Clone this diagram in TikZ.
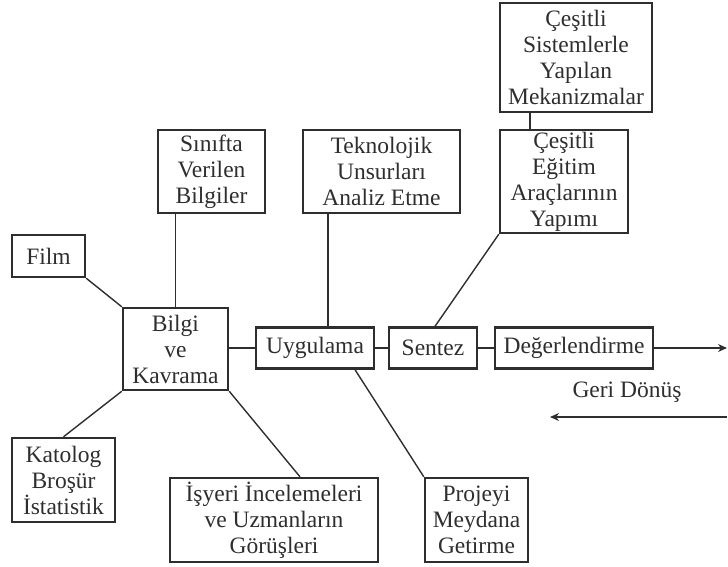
\documentclass[tikz,border=0pt]{standalone}
\usepackage{fontspec}
\setmainfont{Liberation Serif}
\usetikzlibrary{arrows.meta}
\definecolor{ink}{HTML}{2E2E2E}
\tikzset{
  box/.style={draw=ink, line width=2.4pt, inner sep=0pt, align=center,
    font=\fontsize{23.5}{26}\selectfont, text=ink},
  link/.style={draw=ink, line width=1.4pt},
  flow/.style={draw=ink, line width=1.4pt, -{Stealth[length=9pt,width=8pt]}}
}
\begin{document}
\begin{tikzpicture}[x=1pt,y=-1pt]
\useasboundingbox (0,0) rectangle (728,566);
\node[box, minimum width=152pt, minimum height=109pt] (mek) at (576,57.5) {Çeşitli\\Sistemlerle\\Yapılan\\Mekanizmalar};
\node[box, minimum width=128pt, minimum height=103pt] (egt) at (564,181.5) {Çeşitli\\Eğitim\\Araçlarının\\Yapımı};
\node[box, minimum width=107pt, minimum height=83pt] (sinif) at (211.5,171.5) {Sınıfta\\Verilen\\Bilgiler};
\node[box, minimum width=157pt, minimum height=83pt] (tek) at (381.5,171.5) {Teknolojik\\Unsurları\\Analiz Etme};
\node[box, minimum width=73pt, minimum height=42pt] (film) at (48.5,256) {Film};
\node[box, minimum width=105pt, minimum height=82pt] (bilgi) at (175.5,349) {Bilgi\\ve\\Kavrama};
\node[box, minimum width=118pt, minimum height=41pt] (uyg) at (315,348) {Uygulama};
\node[box, minimum width=88pt, minimum height=41pt] (sen) at (433,348) {Sentez};
\node[box, minimum width=158pt, minimum height=41pt] (deg) at (574,348) {Değerlendirme};
\node[box, minimum width=103pt, minimum height=84pt] (kat) at (63.5,480) {Katolog\\Broşür\\İstatistik};
\node[box, minimum width=208pt, minimum height=84pt] (isy) at (274,520) {İşyeri İncelemeleri\\ve Uzmanların\\Görüşleri};
\node[box, minimum width=103pt, minimum height=84pt] (proj) at (476.5,520) {Projeyi\\Meydana\\Getirme};
\node[text=ink, font=\fontsize{23.5}{26}\selectfont] (geri) at (627,392) {Geri Dönüş};
\coordinate (outR) at (727,348);
\coordinate (backS) at (727,417);
\coordinate (backE) at (550,417);

\draw[link] ([xshift=-46pt]mek.south) -- ([xshift=-46pt]mek.south |- egt.north);
\draw[link] (bilgi.north) -- (bilgi.north |- sinif.south);
\draw[link] (film.south east) -- (bilgi.north west);
\draw[link] (bilgi.south west) -- (kat.north);
\draw[link] (bilgi.south east) -- ([xshift=26pt]isy.north);
\draw[link] (bilgi.east |- uyg.west) -- (uyg.west);
\draw[link] (uyg.east) -- (sen.west);
\draw[link] (sen.east) -- (deg.west);
\draw[link] ([xshift=13pt]uyg.north) -- ([xshift=13pt]uyg.north |- tek.south);
\draw[link] ([xshift=40pt]uyg.south) -- (proj.north west);
\draw[link] ([xshift=2pt]sen.north) -- (egt.south west);
\draw[flow] (deg.east) -- (outR);
\draw[flow] (backS) -- (backE);
\end{tikzpicture}
\end{document}
